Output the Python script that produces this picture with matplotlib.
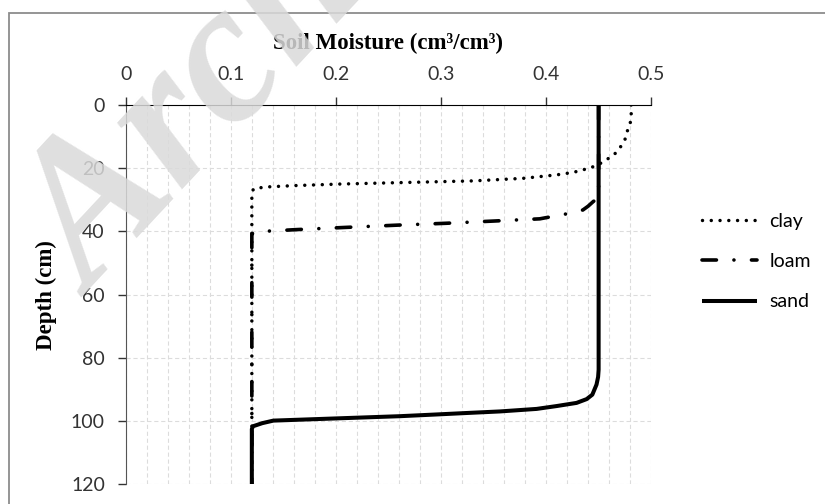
import matplotlib
matplotlib.use("Agg")
import matplotlib.pyplot as plt
from matplotlib.patches import Rectangle
import numpy as np

# soil moisture profiles (cm3/cm3) against depth (cm)
clay_depth = [0, 3, 6, 8.5, 11, 13.7, 15.6, 17.2, 18.8, 19.9, 21.3, 22.1, 23.2,
              24.0, 24.5, 25.0, 25.5, 25.9, 26.4, 27.5, 120]
clay_theta = [0.481, 0.481, 0.480, 0.477, 0.475, 0.470, 0.465, 0.458, 0.450, 0.442,
              0.426, 0.410, 0.378, 0.331, 0.267, 0.204, 0.160, 0.135, 0.122, 0.120, 0.120]

loam_depth = [0, 29.5, 30.5, 32.0, 33.2, 34.4, 36.0, 36.7, 37.4, 38.0, 38.7, 39.4,
              39.8, 40.1, 40.8, 120]
loam_theta = [0.450, 0.450, 0.445, 0.440, 0.435, 0.420, 0.394, 0.350, 0.305, 0.258,
              0.210, 0.163, 0.140, 0.123, 0.120, 0.120]

sand_depth = [0, 80, 83.7, 86, 88.4, 90, 91.6, 93.0, 94.2, 95.2, 96.1, 96.9, 97.4,
              97.9, 98.4, 99.8, 100.6, 101.6, 102.5, 103.7, 120]
sand_theta = [0.450, 0.450, 0.450, 0.4495, 0.448, 0.446, 0.444, 0.4386, 0.429, 0.410,
              0.391, 0.356, 0.324, 0.293, 0.261, 0.1405, 0.130, 0.121, 0.120, 0.120, 0.120]

x_ticks = [0, 0.1, 0.2, 0.3, 0.4, 0.5]
x_labels = ["0", "0.1", "0.2", "0.3", "0.4", "0.5"]
y_ticks = [0, 20, 40, 60, 80, 100, 120]

plt.rcParams["lines.scale_dashes"] = False
tick_font = "Lato"
serif = "Liberation Serif"

fig = plt.figure(figsize=(8.25, 5.04), dpi=100)
ax = fig.add_axes([0.1524, 0.0387, 0.6369, 0.7530])

ax.plot(clay_theta, clay_depth, color="black", lw=2.5, dashes=(0.01, 6.3),
        dash_capstyle="round", label="clay", zorder=3)
ax.plot(loam_theta, loam_depth, color="black", lw=2.6,
        dashes=(10.4, 12.6, 0.01, 12.6), dash_capstyle="round", label="loam", zorder=3)
ax.plot(sand_theta, sand_depth, color="black", lw=2.9, solid_capstyle="butt",
        label="sand", zorder=4)

ax.set_xlim(0, 0.5)
ax.set_ylim(120, 0)
ax.xaxis.tick_top()
ax.set_xticks(x_ticks)
ax.set_xticklabels(x_labels)
ax.set_xticks(np.arange(0, 0.501, 0.02), minor=True)
ax.set_yticks(y_ticks)
ax.tick_params(axis="x", which="major", direction="out", length=6, width=1,
               pad=10, labelsize=14, colors="#333333")
ax.tick_params(axis="x", which="minor", length=0)
ax.tick_params(axis="y", direction="out", length=6, width=1, pad=9,
               labelsize=14, colors="#333333")
for lab in ax.get_xticklabels() + ax.get_yticklabels():
    lab.set_family(tick_font)
    lab.set_color("#333333")

ax.grid(which="both", axis="x", color="#dcdcdc", lw=0.8, ls=(0, (3, 2)))
ax.grid(which="major", axis="y", color="#dcdcdc", lw=0.8, ls=(0, (3, 2)))
ax.set_axisbelow(True)
for side in ["right", "bottom"]:
    ax.spines[side].set_visible(False)
ax.spines["top"].set_color("black")
ax.spines["left"].set_color("#555555")

ax.xaxis.set_label_position("top")
ax.set_xlabel("Soil Moisture (cm\u00b3/cm\u00b3)", family=serif, weight="bold",
              fontsize=16.5, labelpad=12)
ax.set_ylabel("Depth (cm)", family=serif, weight="bold", fontsize=16.5, labelpad=10)

ax.legend(loc="center left", bbox_to_anchor=(0.851, 0.481),
          bbox_transform=fig.transFigure, frameon=False, handlelength=2.85,
          handletextpad=0.6, labelspacing=1.2, borderpad=0, borderaxespad=0,
          prop={"family": tick_font, "size": 14})

# outer chart border
fig.patches.append(Rectangle((9 / 825, -0.2), 1.2, 1.2 - 13 / 504,
                             transform=fig.transFigure, fill=False,
                             edgecolor="#8c8c8c", lw=1.3))

# watermark
fig.text(0.112, 0.41, "Archive", rotation=47, rotation_mode="anchor",
         ha="left", va="baseline", fontsize=145, family=serif, weight="bold",
         style="italic", color="#dadada", alpha=0.85, zorder=10)

fig.savefig("out.png", dpi=100)
